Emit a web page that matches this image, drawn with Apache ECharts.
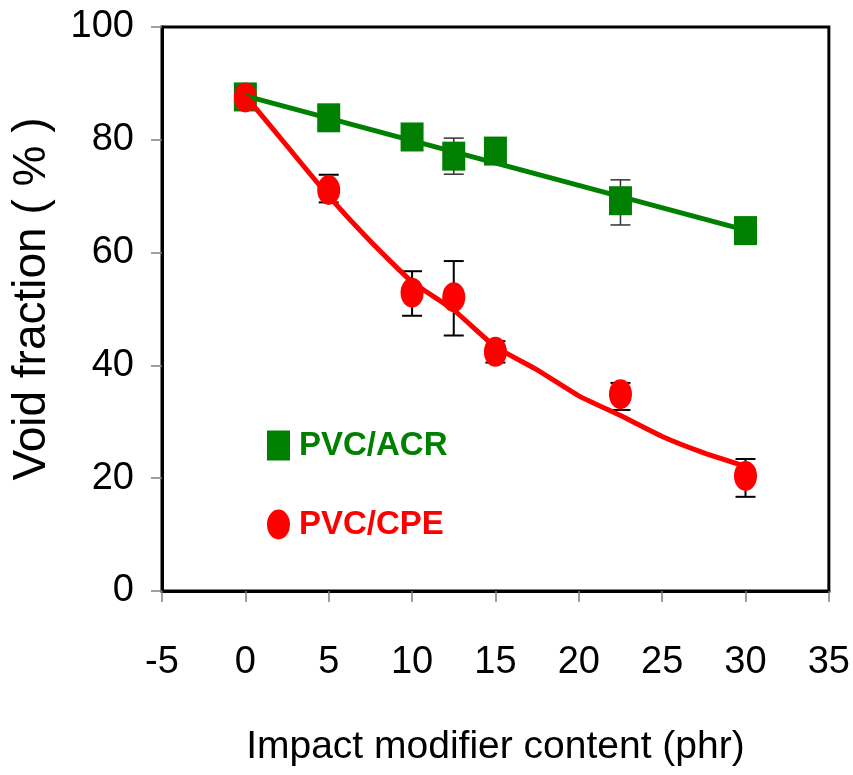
<!DOCTYPE html>
<html>
<head>
<meta charset="utf-8">
<script src="https://cdn.jsdelivr.net/npm/echarts@6/dist/echarts.min.js"></script>
<style>
  html, body { margin: 0; padding: 0; background: #fff; }
  #chart { width: 853px; height: 775px; }
</style>
</head>
<body>
<div id="chart"></div>
<script>
// Measured points (phr -> void fraction %)
const acrX = [0, 5, 10, 12.5, 15, 22.5, 30];
const acrY = [87.6, 83.9, 80.5, 77.1, 78.0, 69.2, 63.9];
const acrErrLow = [null, null, null, 73.9, null, 64.9, null];
const acrErrHigh = [null, null, null, 80.3, null, 72.9, null];

const cpeX = [0, 5, 10, 12.5, 15, 22.5, 30];
const cpeY = [87.5, 71.1, 52.9, 52.1, 42.4, 34.9, 20.4];
const cpeErrLow = [null, 68.9, 48.8, 45.3, 40.5, 32.1, 16.7];
const cpeErrHigh = [null, 73.8, 56.7, 58.5, 44.3, 36.9, 23.4];

// Fit lines
const acrFitX = [0, 30];
const acrFitY = [87.8, 64.0];
const cpeFitX = [0, 2.5, 5, 7.5, 10, 12.5, 15, 17.5, 20, 22.5, 25, 27.5, 30];
const cpeFitY = [87.8, 78.9, 70.0, 62.0, 54.8, 49.8, 43.3, 39.2, 34.6, 31.1, 27.4, 24.5, 22.1];

const xTicks = { min: -5, max: 35, interval: 5 };
const yTicks = { min: 0, max: 100, interval: 20 };

const FONT = '"Liberation Sans", Arial, sans-serif';
const GREEN = '#008000';
const RED = '#ff0000';
const ELLIPSE = 'path://M50,0A50,50,0,1,1,50,100A50,50,0,1,1,50,0Z';

const zip = (xs, ys) => xs.map((x, i) => [x, ys[i]]);
const errData = (xs, lo, hi) =>
  xs.map((x, i) => [x, lo[i], hi[i]]).filter(d => d[1] != null);

function errorBar(color, width) {
  return function (params, api) {
    const x = api.value(0);
    const lo = api.coord([x, api.value(1)]);
    const hi = api.coord([x, api.value(2)]);
    const half = 10;
    const style = { stroke: color, lineWidth: width };
    return {
      type: 'group',
      children: [
        { type: 'line', shape: { x1: lo[0], y1: lo[1], x2: hi[0], y2: hi[1] }, style },
        { type: 'line', shape: { x1: lo[0] - half, y1: lo[1], x2: lo[0] + half, y2: lo[1] }, style },
        { type: 'line', shape: { x1: hi[0] - half, y1: hi[1], x2: hi[0] + half, y2: hi[1] }, style }
      ]
    };
  };
}

const chart = echarts.init(document.getElementById('chart'), null, { renderer: 'canvas' });

chart.setOption({
  animation: false,
  textStyle: { fontFamily: FONT },
  grid: {
    left: 162, right: 22, top: 27, bottom: 184,
    show: true, borderColor: '#000', borderWidth: 3, backgroundColor: 'transparent'
  },
  legend: {
    orient: 'vertical',
    left: 262,
    top: 424,
    itemWidth: 23,
    itemHeight: 30,
    itemGap: 46,
    symbolKeepAspect: false,
    textStyle: { fontFamily: FONT, fontSize: 33, fontWeight: 'bold', lineHeight: 30, padding: [0, 0, 0, 4] },
    data: [
      { name: 'PVC/ACR', icon: 'rect', textStyle: { color: GREEN } },
      { name: 'PVC/CPE', icon: ELLIPSE, textStyle: { color: RED } }
    ]
  },
  xAxis: {
    type: 'value',
    min: xTicks.min, max: xTicks.max, interval: xTicks.interval,
    name: 'Impact modifier content (phr)',
    nameLocation: 'middle',
    nameGap: 137,
    nameTextStyle: { fontFamily: FONT, fontSize: 39, color: '#000' },
    axisLine: { onZero: false, lineStyle: { color: '#000', width: 3 } },
    axisTick: { show: true, inside: false, length: 11, lineStyle: { color: '#808080', width: 1.5 } },
    axisLabel: { fontFamily: FONT, fontSize: 38, color: '#000', margin: 53 },
    splitLine: { show: false }
  },
  yAxis: {
    type: 'value',
    min: yTicks.min, max: yTicks.max, interval: yTicks.interval,
    name: 'Void fraction ( % )',
    nameLocation: 'middle',
    nameGap: 107,
    nameRotate: 90,
    nameTextStyle: { fontFamily: FONT, fontSize: 46, color: '#000', padding: [0, 0, 0, 20] },
    axisLine: { onZero: false, lineStyle: { color: '#000', width: 3 } },
    axisTick: { show: true, inside: false, length: 11, lineStyle: { color: '#808080', width: 1.5 } },
    axisLabel: { fontFamily: FONT, fontSize: 38, color: '#000', margin: 28 },
    splitLine: { show: false }
  },
  series: [
    {
      name: 'ACR error', type: 'custom', z: 1,
      renderItem: errorBar('#333', 1.5),
      data: errData(acrX, acrErrLow, acrErrHigh)
    },
    {
      name: 'CPE error', type: 'custom', z: 1,
      renderItem: errorBar('#000', 2),
      data: errData(cpeX, cpeErrLow, cpeErrHigh)
    },
    {
      name: 'PVC/ACR', type: 'scatter', z: 2,
      symbol: 'rect', symbolSize: [23, 29],
      itemStyle: { color: GREEN, opacity: 1 },
      data: zip(acrX, acrY)
    },
    {
      name: 'PVC/CPE', type: 'scatter', z: 3,
      symbol: ELLIPSE, symbolKeepAspect: false, symbolSize: [23, 30],
      itemStyle: { color: RED, opacity: 1 },
      data: zip(cpeX, cpeY)
    },
    {
      name: 'ACR fit', type: 'line', z: 4,
      showSymbol: false, symbol: 'none',
      lineStyle: { color: GREEN, width: 5 },
      data: zip(acrFitX, acrFitY)
    },
    {
      name: 'CPE fit', type: 'line', z: 4,
      showSymbol: false, symbol: 'none', smooth: 0.15,
      lineStyle: { color: RED, width: 5 },
      data: zip(cpeFitX, cpeFitY)
    }
  ]
});
</script>
</body>
</html>
